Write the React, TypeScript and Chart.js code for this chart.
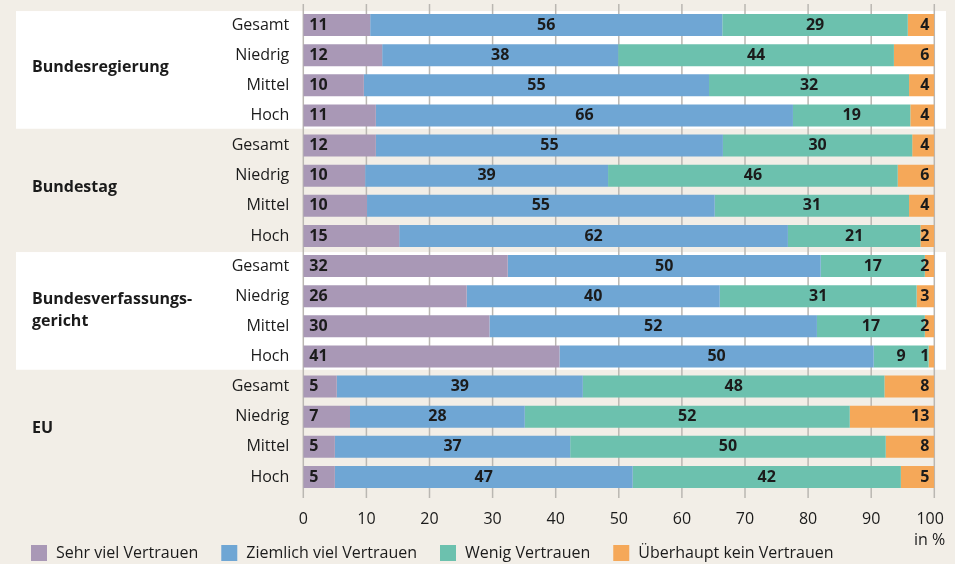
import React, { useEffect, useRef } from "react";
import { Chart, registerables } from "chart.js";

Chart.register(...registerables);

// ---------- data ----------
const groupNames: string[][] = [
  ["Bundesregierung"],
  ["Bundestag"],
  ["Bundesverfassungs-", "gericht"],
  ["EU"],
];
const levels = ["Gesamt", "Niedrig", "Mittel", "Hoch"];
const seriesNames = [
  "Sehr viel Vertrauen",
  "Ziemlich viel Vertrauen",
  "Wenig Vertrauen",
  "Überhaupt kein Vertrauen",
];

// segment lengths (as drawn)
const sehrViel = [10.6, 12.5, 9.6, 11.5, 11.5, 9.8, 10.1, 15.2, 32.4, 25.9, 29.5, 40.6, 5.3, 7.4, 5.0, 5.0];
const ziemlichViel = [55.8, 37.4, 54.7, 66.1, 55.0, 38.5, 55.1, 61.6, 49.6, 40.1, 51.9, 49.8, 39.0, 27.7, 37.3, 47.2];
const wenig = [29.4, 43.7, 31.7, 18.6, 30.0, 45.9, 30.8, 21.0, 16.5, 31.2, 17.1, 8.7, 47.8, 51.5, 50.0, 42.5];
const keins = [4.2, 6.4, 4.0, 3.8, 3.5, 5.8, 4.0, 2.2, 1.5, 2.8, 1.5, 0.9, 7.9, 13.4, 7.7, 5.3];

// printed (rounded) labels
const sehrVielLabels = [11, 12, 10, 11, 12, 10, 10, 15, 32, 26, 30, 41, 5, 7, 5, 5];
const ziemlichVielLabels = [56, 38, 55, 66, 55, 39, 55, 62, 50, 40, 52, 50, 39, 28, 37, 47];
const wenigLabels = [29, 44, 32, 19, 30, 46, 31, 21, 17, 31, 17, 9, 48, 52, 50, 42];
const keinsLabels = [4, 6, 4, 4, 4, 6, 4, 2, 2, 3, 2, 1, 8, 13, 8, 5];

const xTicks = [0, 10, 20, 30, 40, 50, 60, 70, 80, 90, 100];
const unitLabel = "in %";

// ---------- styles ----------
const FONT = '"Open Sans", sans-serif';
const TEXT = "#1b1b1b";
const BG = "#f2eee7";
const colors = ["#a998b6", "#6fa6d4", "#6cc1ae", "#f5a859"];

const categoryLabels: string[] = [];
groupNames.forEach(() => levels.forEach((l) => categoryLabels.push(l)));
const seriesValues = [sehrViel, ziemlichViel, wenig, keins];
const seriesLabels = [sehrVielLabels, ziemlichVielLabels, wenigLabels, keinsLabels];

const zeroPadding = (scale: any) => {
  scale.paddingTop = 0;
  scale.paddingBottom = 0;
  scale.paddingLeft = 0;
  scale.paddingRight = 0;
};

const decorPlugin = {
  id: "decor",
  beforeDraw(chart: any) {
    const { ctx, scales } = chart;
    const y = scales.y;
    ctx.save();
    ctx.fillStyle = BG;
    ctx.fillRect(0, 0, chart.width, chart.height);
    ctx.fillStyle = "#ffffff";
    groupNames.forEach((_, g) => {
      if (g % 2 !== 0) return;
      const first = y.getPixelForValue(g * levels.length);
      const last = y.getPixelForValue(g * levels.length + levels.length - 1);
      const top = first - 14;
      const bottom = last + 13.3;
      ctx.fillRect(16, top, 930, bottom - top);
    });
    ctx.restore();
  },
  beforeDatasetsDraw(chart: any) {
    const { ctx, scales, chartArea } = chart;
    const x = scales.x;
    ctx.save();
    ctx.strokeStyle = "#bab7b2";
    ctx.lineWidth = 1.5;
    xTicks.forEach((v) => {
      const px = x.getPixelForValue(v);
      ctx.beginPath();
      ctx.moveTo(px, 4);
      ctx.lineTo(px, chartArea.bottom + 6);
      ctx.stroke();
    });
    ctx.restore();
  },
  afterDatasetsDraw(chart: any) {
    const { ctx, scales, chartArea } = chart;
    const y = scales.y;
    ctx.save();
    // value labels
    ctx.font = `bold 16px ${FONT}`;
    ctx.fillStyle = TEXT;
    ctx.textBaseline = "middle";
    seriesLabels.forEach((labels, d) => {
      const meta = chart.getDatasetMeta(d);
      meta.data.forEach((bar: any, i: number) => {
        const txt = String(labels[i]);
        const start = Math.min(bar.x, bar.base);
        const end = Math.max(bar.x, bar.base);
        if (d === 0) {
          ctx.textAlign = "left";
          ctx.fillText(txt, start + 6, bar.y);
        } else if (d === seriesLabels.length - 1) {
          ctx.textAlign = "right";
          ctx.fillText(txt, end - 5, bar.y);
        } else {
          ctx.textAlign = "center";
          ctx.fillText(txt, (start + end) / 2, bar.y);
        }
      });
    });
    // group labels
    ctx.textAlign = "left";
    groupNames.forEach((lines, g) => {
      const first = y.getPixelForValue(g * levels.length);
      const last = y.getPixelForValue(g * levels.length + levels.length - 1);
      const mid = (first + last) / 2 - 3 + (lines.length - 1) * 2.5;
      lines.forEach((line, k) => {
        ctx.fillText(line, 32, mid + (k - (lines.length - 1) / 2) * 22);
      });
    });
    // unit label
    ctx.font = `16px ${FONT}`;
    ctx.textAlign = "right";
    ctx.fillText(unitLabel, chartArea.right + 11, chartArea.bottom + 48);
    // legend
    let lx = 31;
    const ly = 553;
    seriesNames.forEach((name, i) => {
      ctx.fillStyle = colors[i];
      ctx.fillRect(lx, ly - 8, 16, 16);
      ctx.fillStyle = TEXT;
      ctx.textAlign = "left";
      ctx.fillText(name, lx + 25, ly);
      lx += 25 + ctx.measureText(name).width + 23;
    });
    ctx.restore();
  },
};

export default function App() {
  const ref = useRef<HTMLCanvasElement>(null);
  useEffect(() => {
    document.body.style.margin = "0";
    const chart = new Chart(ref.current!, {
      type: "bar",
      data: {
        labels: categoryLabels,
        datasets: seriesValues.map((vals, i) => ({
          label: seriesNames[i],
          data: vals,
          backgroundColor: colors[i],
          borderWidth: 0,
          stack: "s",
          categoryPercentage: 1,
          barPercentage: 0.73,
        })),
      },
      plugins: [decorPlugin],
      options: {
        indexAxis: "y",
        responsive: false,
        animation: false,
        layout: { padding: { top: 10, right: 20.7, left: 0, bottom: 0 } },
        plugins: {
          legend: { display: false },
          tooltip: { enabled: false },
        },
        scales: {
          x: {
            type: "linear",
            stacked: true,
            min: 0,
            max: 100,
            grid: { display: false, drawTicks: false },
            border: { display: false },
            afterFit: (scale: any) => {
              scale.height = 72;
              zeroPadding(scale);
            },
            afterBuildTicks: (scale: any) => {
              scale.ticks = xTicks.map((v) => ({ value: v }));
            },
            ticks: {
              autoSkip: false,
              maxRotation: 0,
              padding: 17.5,
              color: TEXT,
              font: { family: FONT, size: 16 },
              callback: (v: any) => (v === 100 ? "100  " : String(v)),
            },
          },
          y: {
            type: "category",
            stacked: true,
            grid: { display: false, drawTicks: false },
            border: { display: false },
            afterFit: (scale: any) => {
              scale.width = 303.3;
              zeroPadding(scale);
            },
            ticks: {
              autoSkip: false,
              padding: 14,
              color: TEXT,
              font: { family: FONT, size: 16 },
            },
          },
        },
      } as any,
    });
    return () => chart.destroy();
  }, []);
  return (
    <canvas
      ref={ref}
      width={955}
      height={564}
      style={{ display: "block", width: 955, height: 564 }}
    />
  );
}
